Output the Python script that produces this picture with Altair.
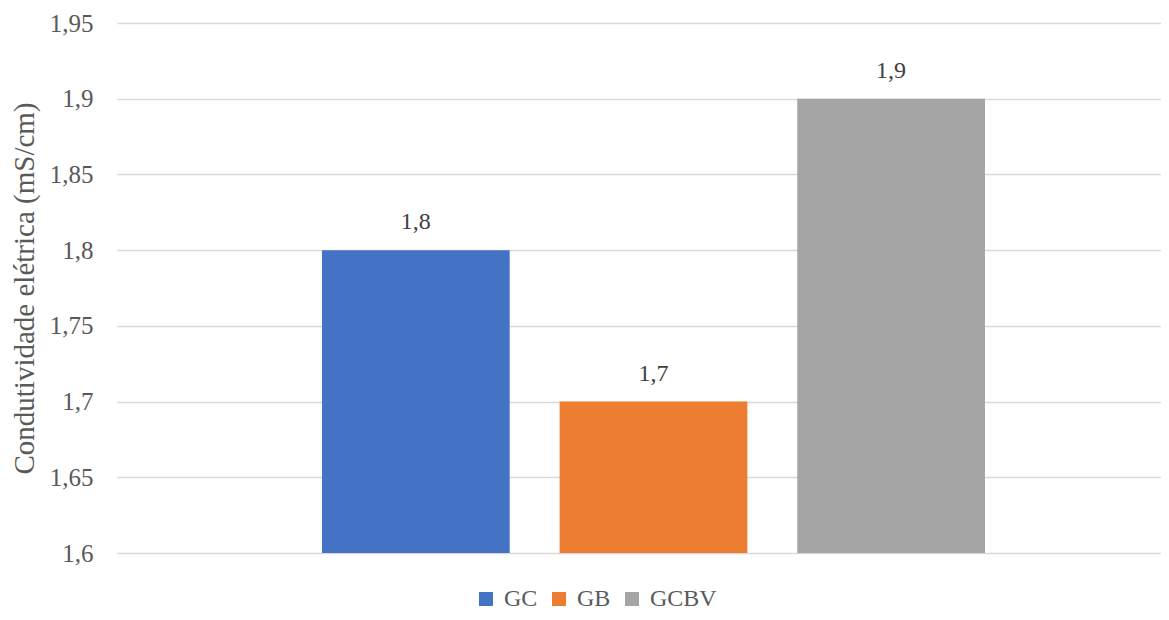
import altair as alt
import pandas as pd

categories = ["GC", "GB", "GCBV"]
values = [1.8, 1.7, 1.9]
colors = ["#4472C4", "#ED7D31", "#A5A5A5"]
y_ticks = [1.6, 1.65, 1.7, 1.75, 1.8, 1.85, 1.9, 1.95]
y_title = "Condutividade elétrica (mS/cm)"

df = pd.DataFrame({"grupo": categories, "valor": values})
df["rotulo"] = [f"{v:g}".replace(".", ",") for v in values]

FONT = "Liberation Serif"

base = alt.Chart(df).encode(
    x=alt.X(
        "grupo:N",
        sort=categories,
        axis=None,
        scale=alt.Scale(paddingInner=0.21, paddingOuter=0.8016, align=0.538),
    ),
    y=alt.Y(
        "valor:Q",
        scale=alt.Scale(domain=[1.6, 1.95], zero=False, nice=False),
        axis=alt.Axis(
            values=y_ticks,
            title=y_title,
            labelExpr="replace(format(datum.value, '.2~f'), '.', ',')",
            grid=True,
            gridColor="#D9D9D9",
            gridWidth=1.5,
            domain=False,
            ticks=False,
            labelPadding=24,
            labelFont=FONT,
            labelFontSize=25,
            labelColor="#595959",
            titleFont=FONT,
            titleFontSize=29,
            titleColor="#595959",
            titleFontWeight="normal",
            titleX=-93,
            titleY=265,
            titleAngle=270,
            titleAlign="center",
            titleBaseline="middle",
        ),
    ),
)

bars = base.mark_bar().encode(
    y2=alt.datum(1.6),
    color=alt.Color(
        "grupo:N",
        sort=categories,
        scale=alt.Scale(domain=categories, range=colors),
        legend=alt.Legend(
            title=None,
            orient="none",
            legendX=357,
            legendY=564,
            direction="horizontal",
            symbolType="square",
            symbolSize=196,
            symbolStrokeWidth=0,
            labelFont=FONT,
            labelFontSize=24,
            labelColor="#595959",
            labelOffset=6,
            columnPadding=9,
        ),
    ),
)

labels = base.mark_text(
    dy=-28, font=FONT, fontSize=24, color="#404040", baseline="middle"
).encode(text="rotulo:N")

chart = (
    alt.layer(bars, labels)
    .properties(
        width=1044,
        height=530,
        autosize=alt.AutoSizeParams(type="none"),
        padding={"left": 109, "top": 15, "right": 0, "bottom": 62},
    )
    .configure(font=FONT)
    .configure_view(stroke=None)
)

chart.save("out.html", embed_options={"renderer": "svg", "actions": False})
